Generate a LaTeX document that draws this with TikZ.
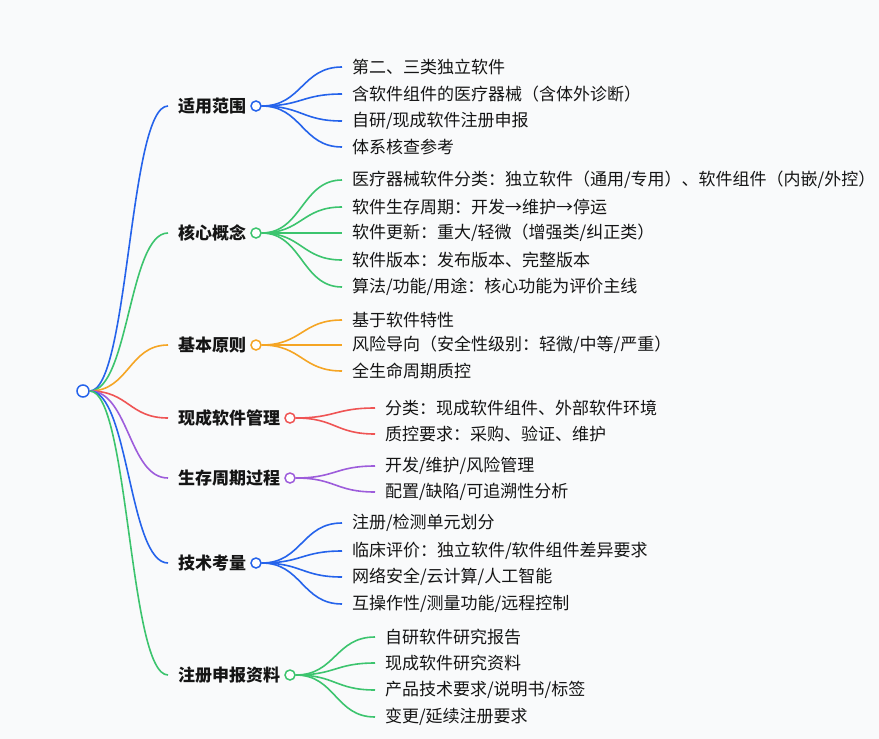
\documentclass[tikz,border=0pt]{standalone}
\usepackage{fontspec}
\setmainfont{Noto Sans CJK SC}
\usepackage{tikz}
\usetikzlibrary{calc,positioning}
\definecolor{mmblue}{HTML}{2563EB}
\definecolor{mmgreen}{HTML}{3CC46E}
\definecolor{mmorange}{HTML}{F5A524}
\definecolor{mmred}{HTML}{EF5454}
\definecolor{mmpurple}{HTML}{9D5CDB}
\definecolor{mmbg}{HTML}{F9FAFB}
\definecolor{mmtext}{HTML}{151515}

\begin{document}
\begin{tikzpicture}[x=1pt,y=-1pt,
  font=\fontsize{17pt}{20pt}\selectfont,
  dot/.style={circle,draw=#1,fill=white,line width=1.5pt,minimum size=10pt,inner sep=0pt},
  cat/.style={anchor=west,inner xsep=0pt,outer xsep=10pt,text=mmtext,font=\fontsize{17pt}{20pt}\selectfont\bfseries},
  leaf/.style={anchor=west,inner xsep=0pt,outer xsep=10pt,text=mmtext},
  mm/.style={line width=1.6pt,to path={let \p1=(\tikztostart),\p2=(\tikztotarget) in
    .. controls ({(\x1+\x2)/2},\y1) and ({(\x1+\x2)/2},\y2) .. (\tikztotarget)}}]
  \fill[mmbg] (0,0) rectangle (879,739);
  \useasboundingbox (0,0) rectangle (879,739);

  \node[dot=mmblue,minimum size=12pt] (root) at (83,391) {};

  \node[cat] (c1) at (168,106) {适用范围};
  \node[cat] (c2) at (168,233) {核心概念};
  \node[cat] (c3) at (168,345) {基本原则};
  \node[cat] (c4) at (168,418) {现成软件管理};
  \node[cat] (c5) at (168,478) {生存周期过程};
  \node[cat] (c6) at (168,563) {技术考量};
  \node[cat] (c7) at (168,675) {注册申报资料};

  \draw[mm,mmblue] (root.east) to (c1.west);
  \draw[mm,mmgreen] (root.east) to (c2.west);
  \draw[mm,mmorange] (root.east) to (c3.west);
  \draw[mm,mmred] (root.east) to (c4.west);
  \draw[mm,mmpurple] (root.east) to (c5.west);
  \draw[mm,mmblue] (root.east) to (c6.west);
  \draw[mm,mmgreen] (root.east) to (c7.west);

  \node[dot=mmblue] (p1) at (c1.east) {};
  \node[dot=mmgreen] (p2) at (c2.east) {};
  \node[dot=mmorange] (p3) at (c3.east) {};
  \node[dot=mmred] (p4) at (c4.east) {};
  \node[dot=mmpurple] (p5) at (c5.east) {};
  \node[dot=mmblue] (p6) at (c6.east) {};
  \node[dot=mmgreen] (p7) at (c7.east) {};

  % 适用范围
  \node[leaf] (l1a) at (342,67) {第二、三类独立软件};
  \node[leaf] (l1b) at (342,94) {含软件组件的医疗器械（含体外诊断）};
  \node[leaf] (l1c) at (342,121) {自研/现成软件注册申报};
  \node[leaf] (l1d) at (342,147) {体系核查参考};
  \foreach \k in {a,b,c,d} \draw[mm,mmblue] (p1.east) to (l1\k.west);

  % 核心概念
  \node[leaf] (l2a) at (342,180) {医疗器械软件分类：独立软件（通用/专用）、软件组件（内嵌/外控）};
  \node[leaf] (l2b) at (342,207) {软件生存周期：开发→维护→停运};
  \node[leaf] (l2c) at (342,233) {软件更新：重大/轻微（增强类/纠正类）};
  \node[leaf] (l2d) at (342,260) {软件版本：发布版本、完整版本};
  \node[leaf] (l2e) at (342,287) {算法/功能/用途：核心功能为评价主线};
  \foreach \k in {a,b,c,d,e} \draw[mm,mmgreen] (p2.east) to (l2\k.west);

  % 基本原则
  \node[leaf] (l3a) at (342,320) {基于软件特性};
  \node[leaf] (l3b) at (342,345) {风险导向（安全性级别：轻微/中等/严重）};
  \node[leaf] (l3c) at (342,371) {全生命周期质控};
  \foreach \k in {a,b,c} \draw[mm,mmorange] (p3.east) to (l3\k.west);

  % 现成软件管理
  \node[leaf] (l4a) at (375,408) {分类：现成软件组件、外部软件环境};
  \node[leaf] (l4b) at (375,434) {质控要求：采购、验证、维护};
  \foreach \k in {a,b} \draw[mm,mmred] (p4.east) to (l4\k.west);

  % 生存周期过程
  \node[leaf] (l5a) at (375,466) {开发/维护/风险管理};
  \node[leaf] (l5b) at (375,492) {配置/缺陷/可追溯性分析};
  \foreach \k in {a,b} \draw[mm,mmpurple] (p5.east) to (l5\k.west);

  % 技术考量
  \node[leaf] (l6a) at (342,523) {注册/检测单元划分};
  \node[leaf] (l6b) at (342,551) {临床评价：独立软件/软件组件差异要求};
  \node[leaf] (l6c) at (342,577) {网络安全/云计算/人工智能};
  \node[leaf] (l6d) at (342,604) {互操作性/测量功能/远程控制};
  \foreach \k in {a,b,c,d} \draw[mm,mmblue] (p6.east) to (l6\k.west);

  % 注册申报资料
  \node[leaf] (l7a) at (375,637) {自研软件研究报告};
  \node[leaf] (l7b) at (375,663) {现成软件研究资料};
  \node[leaf] (l7c) at (375,690) {产品技术要求/说明书/标签};
  \node[leaf] (l7d) at (375,717) {变更/延续注册要求};
  \foreach \k in {a,b,c,d} \draw[mm,mmgreen] (p7.east) to (l7\k.west);
\end{tikzpicture}
\end{document}
